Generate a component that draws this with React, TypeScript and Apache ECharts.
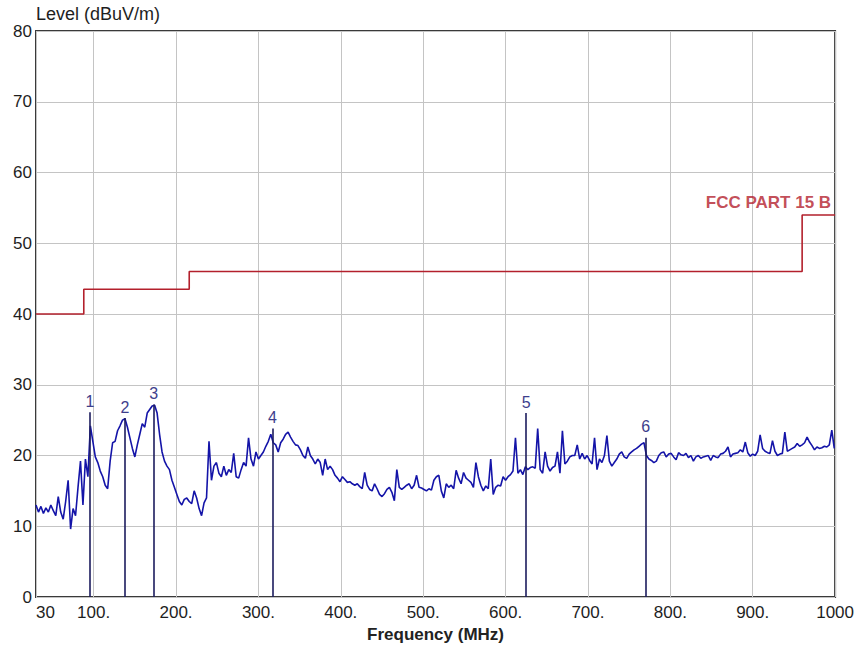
import React, { useEffect, useRef } from "react";
import * as echarts from "echarts";

// x-axis tick values and labels
const xTicks = [30, 100, 200, 300, 400, 500, 600, 700, 800, 900, 1000];
const xTickLabels = ["30", "100.", "200.", "300.", "400.", "500.", "600.", "700.", "800.", "900.", "1000"];

// FCC Part 15 B limit (step line)
const limitFreqs = [30, 88, 88, 216, 216, 960, 960, 1000];
const limitLevels = [40, 40, 43.5, 43.5, 46, 46, 54, 54];
const limitName = "FCC PART 15 B";

// marked peaks
const markerFreqs = [95.5, 138, 173, 317, 625, 770];
const markerLevels = [26.1, 25.3, 27.2, 23.8, 26.0, 22.5];
const markerLabels = ["1", "2", "3", "4", "5", "6"];

// measured sweep: 30 MHz .. 999 MHz every 3 MHz
const sweepStart = 30;
const sweepStep = 3;
const levels30to189 = [
  13.0, 12.0, 12.8, 11.8, 12.6, 12.0, 13.0, 12.2, 11.5, 14.2,
  12.0, 11.0, 13.5, 16.5, 9.6, 12.5, 11.5, 15.5, 19.2, 13.0,
  19.5, 17.0, 24.2, 22.0, 19.8, 19.0, 17.8, 17.0, 15.8, 15.3,
  19.2, 21.8, 22.0, 23.5, 24.2, 25.0, 25.2, 24.0, 22.5, 21.0,
  19.8, 21.5, 23.0, 24.5, 24.0, 26.0, 26.5, 27.0, 27.1, 26.0,
  23.0, 20.5, 19.2, 18.5,
];
const levels192to348 = [
  18.0, 16.5, 15.5, 14.5, 13.5, 13.0, 13.8, 14.0, 13.5, 13.2,
  15.0, 14.0, 12.5, 11.5, 13.3, 14.0, 22.0, 16.5, 18.5, 19.0,
  17.5, 17.0, 18.5, 17.2, 18.0, 17.6, 20.3, 17.0, 16.8, 18.0,
  19.0, 18.5, 22.5, 19.5, 18.5, 20.5, 19.5, 20.0, 20.5, 21.3,
  22.0, 23.0, 21.8, 21.5, 20.5, 21.8, 22.3, 23.0, 23.3, 22.6,
  22.0, 21.5, 21.4,
];
const levels351to516 = [
  20.8, 20.0, 19.6, 21.2, 20.0, 19.5, 18.8, 19.5, 19.0, 17.2,
  19.5, 18.0, 18.5, 18.0, 17.2, 16.8, 16.3, 17.0, 16.6, 16.2,
  16.3, 16.0, 15.8, 16.0, 15.6, 15.3, 17.6, 15.8, 15.2, 15.0,
  16.0, 15.3, 14.5, 14.2, 14.6, 15.2, 15.5, 14.8, 13.6, 18.0,
  15.5, 15.2, 15.5, 15.8, 16.0, 15.3, 15.8, 17.2, 15.5, 15.4,
  15.2, 15.0, 15.3, 15.1, 16.5, 17.0,
];
const levels519to684 = [
  17.2, 15.0, 14.0, 16.0, 15.5, 15.8, 15.3, 17.9, 16.8, 16.0,
  17.6, 16.8, 16.5, 16.2, 15.5, 19.0, 17.0, 15.8, 15.0, 15.7,
  15.3, 19.5, 14.5, 15.5, 15.8, 15.7, 17.0, 16.5, 17.0, 17.3,
  17.8, 22.5, 17.5, 18.0, 17.3, 18.4, 18.0, 18.3, 18.4, 18.2,
  23.8, 18.0, 17.5, 20.5, 18.5, 17.8, 18.3, 18.5, 20.5, 17.5,
  23.5, 18.8, 19.2, 19.8, 20.0, 20.0,
];
const levels687to846 = [
  21.5, 19.5, 20.3, 19.5, 20.0, 19.3, 18.8, 22.5, 18.0, 19.5,
  19.0, 20.0, 22.8, 19.2, 18.5, 19.0, 19.5, 20.2, 20.5, 19.8,
  19.6, 20.2, 20.5, 20.8, 21.0, 21.3, 21.6, 21.8, 20.0, 19.5,
  19.3, 19.0, 19.2, 20.0, 20.4, 20.5, 19.8, 20.2, 20.3, 19.8,
  19.4, 20.4, 20.1, 20.0, 20.3, 19.7, 20.0, 19.2, 19.8, 20.0,
  19.6, 19.8, 19.9, 20.0,
];
const levels849to999 = [
  19.3, 20.0, 19.8, 19.7, 20.2, 20.3, 20.6, 21.2, 19.8, 20.2,
  20.3, 20.4, 20.8, 20.5, 21.9, 20.4, 19.9, 20.2, 20.0, 20.6,
  22.9, 21.0, 20.6, 20.4, 20.3, 22.1, 20.6, 20.0, 20.2, 20.3,
  23.3, 20.6, 20.8, 21.0, 21.2, 21.7, 21.3, 21.5, 21.8, 22.6,
  21.9, 21.4, 20.8, 21.2, 21.0, 21.1, 21.3, 21.2, 21.5, 23.6,
  21.0,
];

const sweepLevels = [
  ...levels30to189,
  ...levels192to348,
  ...levels351to516,
  ...levels519to684,
  ...levels687to846,
  ...levels849to999,
];

const FONT = "'Liberation Sans', Arial, sans-serif";

export default function App() {
  const ref = useRef<HTMLDivElement>(null);

  useEffect(() => {
    if (!ref.current) return;
    const chart = echarts.init(ref.current, null, { renderer: "svg" });

    const sweepData = sweepLevels.map((v, i) => [sweepStart + i * sweepStep, v]);
    const limitData = limitFreqs.map((f, i) => [f, limitLevels[i]]);
    const markerLines = markerFreqs.map((f, i) => [
      { coord: [f, 0], name: markerLabels[i] },
      { coord: [f, markerLevels[i]] },
    ]);

    chart.setOption({
      animation: false,
      backgroundColor: "#ffffff",
      grid: {
        left: 36,
        right: 21,
        top: 31,
        bottom: 54,
        show: true,
        borderColor: "#3a3a3a",
        borderWidth: 2,
        backgroundColor: "transparent",
      },
      xAxis: {
        type: "value",
        min: 30,
        max: 1000,
        name: "Frequency (MHz)",
        nameLocation: "middle",
        nameGap: 28,
        nameTextStyle: { fontFamily: FONT, fontSize: 17, fontWeight: "bold", color: "#222" },
        axisLine: { show: false },
        axisTick: { show: false, customValues: xTicks },
        axisLabel: {
          customValues: xTicks,
          formatter: (v: number) => xTickLabels[xTicks.indexOf(v)] ?? String(v),
          margin: 7,
          alignMinLabel: "left",
          fontFamily: FONT,
          fontSize: 17,
          color: "#1e1e1e",
        },
        splitLine: { show: true, lineStyle: { color: "#c4c4c4", width: 1 } },
      },
      yAxis: {
        type: "value",
        min: 0,
        max: 80,
        interval: 10,
        name: "Level (dBuV/m)",
        nameLocation: "end",
        nameGap: 5,
        nameTextStyle: { fontFamily: FONT, fontSize: 18, color: "#1e1e1e", align: "left" },
        axisLine: { show: false },
        axisTick: { show: false },
        axisLabel: { margin: 4, fontFamily: FONT, fontSize: 17, color: "#1e1e1e" },
        splitLine: { show: true, lineStyle: { color: "#c4c4c4", width: 1 } },
      },
      series: [
        {
          name: limitName,
          type: "line",
          data: limitData,
          showSymbol: false,
          symbol: "none",
          lineStyle: { color: "#b3202c", width: 1.6 },
          z: 3,
        },
        {
          name: "limitLabel",
          type: "scatter",
          data: [[1000, 54]],
          symbol: "circle",
          symbolSize: 2,
          itemStyle: { color: "rgba(0,0,0,0)" },
          label: {
            show: true,
            formatter: limitName,
            position: "top",
            align: "right",
            distance: 3,
            offset: [-4, 0],
            fontFamily: FONT,
            fontSize: 17,
            fontWeight: "bold",
            color: "#b3202c",
          },
          z: 5,
        },
        {
          name: "Level",
          type: "line",
          data: sweepData,
          showSymbol: false,
          symbol: "none",
          lineStyle: { color: "#1414a8", width: 1.6 },
          z: 4,
          markLine: {
            silent: true,
            symbol: "none",
            lineStyle: { color: "#1c1c5e", width: 1.6, type: "solid" },
            label: {
              show: true,
              position: "end",
              formatter: (p: any) => p.name,
              fontFamily: FONT,
              fontSize: 16,
              color: "#3e3e8c",
              distance: 3,
            },
            data: markerLines,
          },
        },
      ],
    });

    return () => chart.dispose();
  }, []);

  return (
    <div
      ref={ref}
      style={{ position: "fixed", left: 0, top: 0, width: 857, height: 651, background: "#fff" }}
    />
  );
}
